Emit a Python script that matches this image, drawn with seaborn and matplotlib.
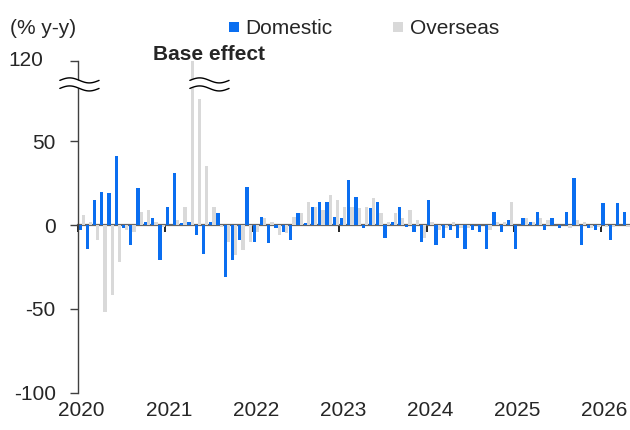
import matplotlib
matplotlib.use('Agg')
import matplotlib.pyplot as plt
from matplotlib.lines import Line2D
import numpy as np
import pandas as pd
import seaborn as sns

# data (% y-y), Jan 2020 - Apr 2026
years = ['2020', '2021', '2022', '2023', '2024', '2025', '2026']
months = pd.date_range('2020-01-01', '2026-04-01', freq='MS').strftime('%Y-%m').tolist()

domestic = [-3, -14, 15, 20, 19, 41, -2, -12, 22, 2, 4, -21,
            11, 31, 1, 2, -6, -17, 2, 7, -31, -21, -9, 23,
            -10, 5, -11, -2, -4, -9, 7, 1, 11, 14, 14, 5,
            4, 27, 17, -2, 10, 14, -8, 2, 11, -1, -4, -10,
            15, -12, -8, -3, -8, -14, -3, -4, -14, 8, -4, 3,
            -14, 4, 2, 8, -3, 4, -2, 8, 28, -12, -2, -3,
            13, -9, 13, 8]
overseas = [6, 2, -9, -52, -42, -22, -3, -4, 8, 9, 2, -1,
            0, 3, 11, 130, 75, 35, 11, -1, -10, -18, -15, -10,
            -4, 4, 2, -6, -5, 5, 7, 14, 11, 9, 18, 15,
            11, 11, 10, 11, 16, 7, 2, 7, 4, 9, 3, -8,
            2, -3, -2, 2, -2, -2, 0, 0, -3, 2, 2, 14,
            0, 4, 2, 4, 3, 0, 0, -2, 3, 2, -2, -1,
            -1, -1, 0, -1]

colors = {'Domestic': '#0A6EF0', 'Overseas': '#D9D9D9'}

df = pd.DataFrame({
    'month': months * 2,
    'value': domestic + overseas,
    'series': ['Domestic'] * len(months) + ['Overseas'] * len(months),
})

sns.set_style('white')
plt.rcParams['font.family'] = ['Liberation Sans', 'DejaVu Sans']
fs = 15

fig = plt.figure(figsize=(6.3, 4.3), dpi=100)
ax = fig.add_axes([0.1238, 0.0872, 0.8762, 0.771])

sns.barplot(data=df, x='month', y='value', hue='series', order=months,
            hue_order=['Domestic', 'Overseas'], palette=colors,
            width=0.9, saturation=1, errorbar=None, linewidth=0, legend=False, ax=ax)

ymax = 98  # axis top, labelled 120 (broken axis)
ax.set_ylim(-100, ymax)
ax.set_xlim(-0.5, len(months) - 0.5)

# y axis
ax.set_yticks([-100, -50, 0, 50, ymax])
ax.set_yticklabels(['-100', '-50', '0', '50', ''])
ax.tick_params(axis='y', length=6, width=1, pad=10, labelsize=fs, color='#404040', left=True)
ax.text(-0.063, ymax, '120', transform=ax.get_yaxis_transform(), ha='right', va='center', fontsize=fs)
ax.set_ylabel('')
ax.set_xlabel('')

for s in ['top', 'right', 'bottom']:
    ax.spines[s].set_visible(False)
ax.spines['left'].set_color('#404040')
ax.spines['left'].set_linewidth(1)

# year labels at the bottom
ax.set_xticks(range(0, len(months), 12))
ax.set_xticklabels(years)
ax.tick_params(axis='x', length=0, pad=6, labelsize=fs)

# zero line with year ticks
sec = ax.secondary_xaxis(100 / (ymax + 100))
sec.set_alignment('bottom')
sec.set_xticks([i - 0.5 for i in range(0, len(months), 12)])
sec.tick_params(axis='x', length=5, width=1.2, color='black', labelbottom=False)
sec.spines['bottom'].set_color('#666666')
sec.spines['bottom'].set_linewidth(1.6)

# axis break marks
def brk(x0, x1, yc):
    t = np.linspace(0, 1, 60)
    xs = x0 + (x1 - x0) * t
    w = 1.5 * np.sin(2 * np.pi * t)
    ax.fill_between(xs, yc - 2.4 + w, yc + 2.4 + w, color='white', zorder=5, clip_on=False, lw=0)
    ax.plot(xs, yc + 2.4 + w, color='black', lw=1, zorder=6, clip_on=False)
    ax.plot(xs, yc - 2.4 + w, color='black', lw=1, zorder=6, clip_on=False)

brk(-3.0, 2.4, 84)
brk(14.9, 20.3, 84)

ax.text(17.5, 102, 'Base effect', fontsize=fs, fontweight='bold', ha='center', va='center')

fig.text(0.016, 0.933, '(% y-y)', fontsize=fs, ha='left', va='center')

handles = [Line2D([], [], marker='s', linestyle='', markersize=6.5, markeredgewidth=0,
                  color=colors[k], label=k) for k in ['Domestic', 'Overseas']]
fig.legend(handles=handles, loc='center', bbox_to_anchor=(0.578, 0.933), ncol=2, frameon=False,
           fontsize=fs, handlelength=0.5, handletextpad=0.3, columnspacing=2.9)

fig.savefig('out.png', dpi=100)
